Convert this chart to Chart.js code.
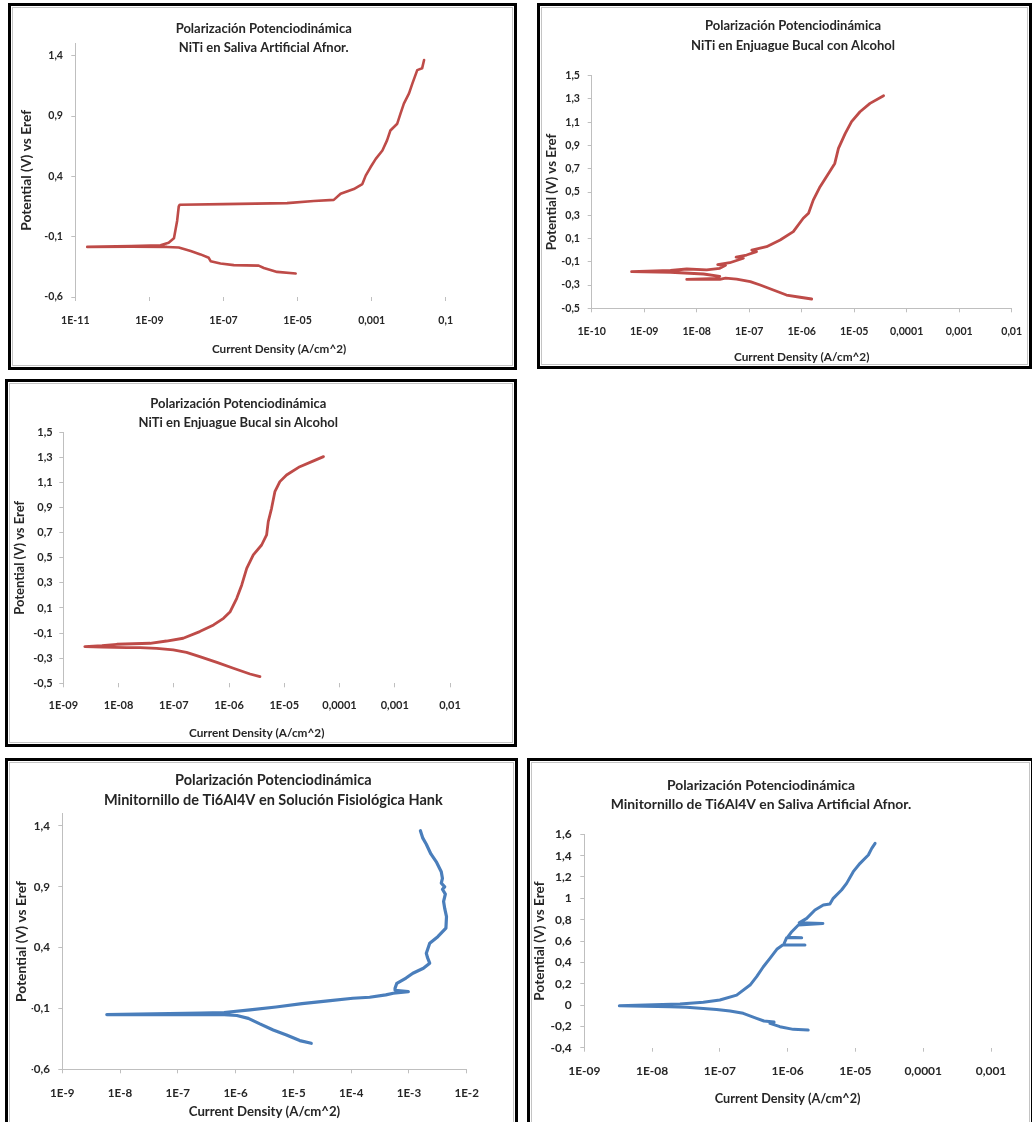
<!DOCTYPE html>
<html><head><meta charset="utf-8">
<script src="https://cdn.jsdelivr.net/npm/chart.js"></script>
<style>
html,body{margin:0;padding:0;width:1032px;height:1122px;overflow:hidden;background:#fff;}
.panel{position:absolute;box-sizing:border-box;border:3px solid #000;background:#fff;box-shadow:inset 0 0 0 1px #fff, inset 0 0 0 2px #c4c4c4;}
canvas{position:absolute;}
</style></head><body>
<div class="panel" style="left:8px;top:3px;width:509px;height:367px"></div>
<div class="panel" style="left:537px;top:3px;width:495px;height:366px"></div>
<div class="panel" style="left:5px;top:379px;width:512px;height:368px"></div>
<div class="panel" style="left:5px;top:758px;width:513px;height:370px"></div>
<div class="panel" style="left:527px;top:758px;width:507px;height:370px"></div>
<canvas id="c1" width="503" height="361" style="left:11px;top:6px"></canvas>
<canvas id="c2" width="520" height="360" style="left:540px;top:6px"></canvas>
<canvas id="c3" width="506" height="362" style="left:8px;top:382px"></canvas>
<canvas id="c4" width="507" height="361" style="left:8px;top:761px"></canvas>
<canvas id="c5" width="499" height="361" style="left:530px;top:761px"></canvas>
<script>
// ---------- DATA (current density A/cm^2, potential V) ----------
const p1Title = ['Polarización Potenciodinámica', 'NiTi en Saliva Artificial Afnor.'];
const p1Current = [8.9e-6, 2.8e-6, 1.23e-6, 8.9e-7, 1.9e-7, 8.3e-8, 4.5e-8, 4.0e-8, 2.4e-8, 1.3e-8, 6.2e-9, 3.0e-9, 3.2e-10, 2.1e-11, 3.2e-10, 2.0e-9, 3.3e-9, 4.6e-9, 5.0e-9, 5.6e-9, 6.2e-9, 6.6e-9, 1.0e-7, 5.2e-6, 2.75e-5, 9.5e-5, 1.45e-4, 3.3e-4, 5.6e-4, 6.9e-4, 9.3e-4, 1.29e-3, 1.95e-3, 2.6e-3, 3.2e-3, 4.9e-3, 6.0e-3, 7.4e-3, 1.02e-2, 1.26e-2, 1.7e-2, 2.3e-2, 2.6e-2];
const p1Potential = [-0.405, -0.392, -0.36, -0.34, -0.336, -0.322, -0.303, -0.275, -0.247, -0.219, -0.19, -0.185, -0.183, -0.185, -0.178, -0.172, -0.15, -0.114, -0.053, 0.03, 0.15, 0.165, 0.17, 0.178, 0.195, 0.205, 0.255, 0.295, 0.336, 0.406, 0.475, 0.545, 0.614, 0.698, 0.78, 0.836, 0.92, 1.003, 1.087, 1.17, 1.28, 1.295, 1.364];
const p1XTicks = [1e-11, 1e-9, 1e-7, 1e-5, 1e-3, 1e-1];
const p1XLabels = ['1E-11', '1E-09', '1E-07', '1E-05', '0,001', '0,1'];
const p1YTicks = [-0.6, -0.1, 0.4, 0.9, 1.4];
const p1YLabels = ['-0,6', '-0,1', '0,4', '0,9', '1,4'];

const p2Title = ['Polarización Potenciodinámica', 'NiTi en Enjuague Bucal con Alcohol'];
const p2Current = [1.55e-6, 9.33e-7, 5.13e-7, 2.88e-7, 1.62e-7, 1.05e-7, 5.75e-8, 3.55e-8, 2.75e-8, 6.46e-9, 2.51e-8, 2.75e-8, 1.35e-8, 3.16e-9, 5.75e-10, 3.16e-9, 6.46e-9, 1.55e-8, 2.75e-8, 3.55e-8, 2.51e-8, 4.27e-8, 7.76e-8, 5.62e-8, 8.91e-8, 1.38e-7, 1.12e-7, 2.14e-7, 3.89e-7, 6.92e-7, 1.07e-6, 1.35e-6, 1.66e-6, 2.24e-6, 3.24e-6, 4.27e-6, 5.01e-6, 6.76e-6, 8.91e-6, 1.29e-5, 2.0e-5, 3.63e-5];
const p2Potential = [-0.42, -0.405, -0.386, -0.343, -0.30, -0.271, -0.25, -0.24, -0.252, -0.252, -0.242, -0.225, -0.205, -0.19, -0.185, -0.175, -0.162, -0.17, -0.156, -0.13, -0.125, -0.108, -0.07, -0.06, -0.042, -0.013, 0, 0.03, 0.087, 0.159, 0.274, 0.317, 0.43, 0.546, 0.66, 0.746, 0.875, 1.004, 1.105, 1.19, 1.262, 1.328];
const p2XTicks = [1e-10, 1e-9, 1e-8, 1e-7, 1e-6, 1e-5, 1e-4, 1e-3, 1e-2];
const p2XLabels = ['1E-10', '1E-09', '1E-08', '1E-07', '1E-06', '1E-05', '0,0001', '0,001', '0,01'];
const p2YTicks = [-0.5, -0.3, -0.1, 0.1, 0.3, 0.5, 0.7, 0.9, 1.1, 1.3, 1.5];
const p2YLabels = ['-0,5', '-0,3', '-0,1', '0,1', '0,3', '0,5', '0,7', '0,9', '1,1', '1,3', '1,5'];

const p3Title = ['Polarización Potenciodinámica', 'NiTi en Enjuague Bucal sin Alcohol'];
const p3Current = [3.63e-6, 2.4e-6, 1.2e-6, 6.03e-7, 2.95e-7, 1.7e-7, 9.77e-8, 4.9e-8, 2.45e-8, 1.41e-8, 5.01e-9, 2.45e-9, 5.01e-9, 9.33e-9, 3.72e-8, 7.41e-8, 1.48e-7, 2.95e-7, 5.25e-7, 7.94e-7, 1.05e-6, 1.38e-6, 1.7e-6, 2.09e-6, 2.75e-6, 3.89e-6, 4.79e-6, 5.13e-6, 5.89e-6, 6.76e-6, 8.32e-6, 1.1e-5, 1.91e-5, 3.39e-5, 5.13e-5];
const p3Potential = [-0.447, -0.426, -0.38, -0.333, -0.288, -0.253, -0.234, -0.221, -0.216, -0.216, -0.212, -0.208, -0.2, -0.189, -0.181, -0.163, -0.141, -0.088, -0.035, 0.018, 0.071, 0.177, 0.284, 0.416, 0.523, 0.602, 0.682, 0.788, 0.894, 1.027, 1.107, 1.16, 1.226, 1.272, 1.306];
const p3XTicks = [1e-9, 1e-8, 1e-7, 1e-6, 1e-5, 1e-4, 1e-3, 1e-2];
const p3XLabels = ['1E-09', '1E-08', '1E-07', '1E-06', '1E-05', '0,0001', '0,001', '0,01'];
const p3YTicks = [-0.5, -0.3, -0.1, 0.1, 0.3, 0.5, 0.7, 0.9, 1.1, 1.3, 1.5];
const p3YLabels = ['-0,5', '-0,3', '-0,1', '0,1', '0,3', '0,5', '0,7', '0,9', '1,1', '1,3', '1,5'];

const p4Title = ['Polarización Potenciodinámica', 'Minitornillo de Ti6Al4V en Solución Fisiológica Hank'];
const p4Current = [2.04e-5, 1.29e-5, 7.59e-6, 4.47e-6, 2.63e-6, 1.66e-6, 1.05e-6, 5.37e-7, 2.4e-7, 5.89e-9, 2.51e-7, 6.31e-7, 1.78e-6, 5.01e-6, 1.41e-5, 3.98e-5, 1.07e-4, 2.09e-4, 3.98e-4, 5.37e-4, 9.77e-4, 5.75e-4, 5.75e-4, 6.17e-4, 8.91e-4, 1.17e-3, 1.78e-3, 2.29e-3, 2.09e-3, 2.0e-3, 2.29e-3, 3.16e-3, 4.37e-3, 4.47e-3, 4.17e-3, 3.98e-3, 4.27e-3, 3.8e-3, 4.17e-3, 3.63e-3, 3.8e-3, 3.63e-3, 3.02e-3, 2.4e-3, 2.0e-3, 1.74e-3, 1.58e-3];
const p4Potential = [-0.386, -0.364, -0.318, -0.277, -0.227, -0.181, -0.158, -0.148, -0.15, -0.15, -0.138, -0.133, -0.112, -0.088, -0.06, -0.038, -0.016, -0.008, 0.012, 0.025, 0.038, 0.05, 0.066, 0.107, 0.15, 0.19, 0.23, 0.272, 0.32, 0.354, 0.436, 0.49, 0.56, 0.655, 0.72, 0.78, 0.84, 0.88, 0.9, 0.93, 0.97, 1.024, 1.10, 1.17, 1.25, 1.30, 1.361];
const p4XTicks = [1e-9, 1e-8, 1e-7, 1e-6, 1e-5, 1e-4, 1e-3, 1e-2];
const p4XLabels = ['1E-9', '1E-8', '1E-7', '1E-6', '1E-5', '1E-4', '1E-3', '1E-2'];
const p4YTicks = [-0.6, -0.1, 0.4, 0.9, 1.4];
const p4YLabels = ['-0,6', '-0,1', '0,4', '0,9', '1,4'];

const p5Title = ['Polarización Potenciodinámica', 'Minitornillo de Ti6Al4V en Saliva Artificial Afnor.'];
const p5Current = [2.01e-6, 1.21e-6, 7.69e-7, 5.48e-7, 6.31e-7, 4.47e-7, 3.48e-7, 2.21e-7, 1.41e-7, 8.95e-8, 5.7e-8, 3.24e-8, 1.84e-8, 3.29e-9, 2.58e-8, 5.7e-8, 1.0e-7, 1.77e-7, 2.79e-7, 3.49e-7, 4.38e-7, 5.48e-7, 6.92e-7, 8.45e-7, 1.8e-6, 8.71e-7, 9.68e-7, 1.61e-6, 1.0e-6, 1.15e-6, 1.44e-6, 3.31e-6, 1.48e-6, 1.91e-6, 2.53e-6, 3.36e-6, 4.2e-6, 4.7e-6, 6.24e-6, 7.41e-6, 9.29e-6, 1.17e-5, 1.55e-5, 1.74e-5, 1.95e-5];
const p5Potential = [-0.235, -0.228, -0.203, -0.172, -0.16, -0.15, -0.125, -0.078, -0.056, -0.041, -0.032, -0.022, -0.016, -0.007, 0.009, 0.025, 0.047, 0.093, 0.187, 0.266, 0.359, 0.437, 0.522, 0.562, 0.562, 0.565, 0.631, 0.631, 0.635, 0.687, 0.75, 0.765, 0.77, 0.812, 0.89, 0.937, 0.947, 1.0, 1.078, 1.14, 1.25, 1.328, 1.406, 1.468, 1.515];
const p5XTicks = [1e-9, 1e-8, 1e-7, 1e-6, 1e-5, 1e-4, 1e-3];
const p5XLabels = ['1E-09', '1E-08', '1E-07', '1E-06', '1E-05', '0,0001', '0,001'];
const p5YTicks = [-0.4, -0.2, 0, 0.2, 0.4, 0.6, 0.8, 1, 1.2, 1.4, 1.6];
const p5YLabels = ['-0,4', '-0,2', '0', '0,2', '0,4', '0,6', '0,8', '1', '1,2', '1,4', '1,6'];

const xAxisTitle = 'Current Density (A/cm^2)';
const yAxisTitle = 'Potential (V) vs Eref';

// ---------- STYLE / LAYOUT ----------
const FONT = 'Lato, "Open Sans", sans-serif';
const AXIS_COLOR = '#BFBFBF';
const TEXT_COLOR = '#262626';
const RED = '#BE4B48';
const BLUE = '#4A7EBB';

function makeChart(id, g, f, s) {
  const r = g.R - g.cl;
  const sp = 2 * g.Tc - g.cl - g.R;
  const y2W = Math.max(0, Math.min(sp, g.w - r));
  const pl = sp - y2W;
  const pr = g.w - r - y2W;
  const yW = g.L - g.cl - pl;
  const tl = 4;
  const tPadTop = (g.ty1 - g.ct) - g.lhT / 2;
  const tPadBottom = (g.T - g.ct) - tPadTop - s.title.length * g.lhT;
  const xH = g.h - (g.B - g.ct);
  const xtPadBottom = g.h - (g.Xy - g.ct) - f.lhA / 2;
  const xTickPad = (g.xlab - g.B) - tl - f.lhK / 2;
  const yTickPad = (g.L - g.ylabR) - tl;
  const ytPadTop = (g.Yx - g.cl) - pl - f.lhA / 2;
  const tickFont = {family: FONT, size: f.tick, weight: 'bold', lineHeight: f.lhK + 'px'};
  const grid = {display: true, drawOnChartArea: false, drawTicks: true, tickLength: tl, color: AXIS_COLOR, lineWidth: 1};
  const pts = s.x.map((v, i) => ({x: v, y: s.y[i]}));
  return new Chart(document.getElementById(id), {
    type: 'scatter',
    data: {datasets: [{data: pts, showLine: true, borderColor: s.color, backgroundColor: s.color,
      borderWidth: s.lw, pointRadius: 0, pointHoverRadius: 0, tension: 0,
      borderJoinStyle: 'round', borderCapStyle: 'round'}]},
    options: {
      responsive: false, animation: false, devicePixelRatio: 1,
      layout: {padding: {left: pl, right: pr, top: 0, bottom: 0}},
      plugins: {
        legend: {display: false}, tooltip: {enabled: false},
        title: {display: true, text: s.title, color: TEXT_COLOR, align: 'center', fullSize: true,
          font: {family: FONT, size: f.title, weight: 'bold', lineHeight: g.lhT + 'px'},
          padding: {top: tPadTop, bottom: tPadBottom}}
      },
      scales: {
        x: {type: 'logarithmic', position: 'bottom', min: s.xMin, max: s.xMax, bounds: 'data',
          afterBuildTicks: sc => { sc.ticks = s.xTicks.map(v => ({value: v})); },
          afterFit: sc => { sc.height = xH; },
          ticks: {autoSkip: false, maxRotation: 0, minRotation: 0, padding: xTickPad, color: TEXT_COLOR,
            font: tickFont, callback: (v, i) => s.xLabels[i]},
          grid: grid,
          border: {display: s.xBorder, color: AXIS_COLOR, width: 1},
          title: {display: true, text: xAxisTitle, color: TEXT_COLOR,
            font: {family: FONT, size: f.xt, weight: 'bold', lineHeight: f.lhA + 'px'},
            padding: {top: 0, bottom: xtPadBottom}}
        },
        y: {type: 'linear', position: 'left', min: s.yMin, max: s.yMax, bounds: 'data',
          afterBuildTicks: sc => { sc.ticks = s.yTicks.map(v => ({value: v})); },
          afterFit: sc => { sc.width = yW; },
          ticks: {autoSkip: false, padding: yTickPad, color: TEXT_COLOR, font: tickFont,
            callback: (v, i) => s.yLabels[i]},
          grid: grid,
          border: {display: true, color: AXIS_COLOR, width: 1},
          title: {display: true, text: yAxisTitle, color: TEXT_COLOR,
            font: {family: FONT, size: f.yt, weight: 'bold', lineHeight: f.lhA + 'px'},
            padding: {top: ytPadTop, bottom: 0}}
        },
        yR: {type: 'linear', position: 'right', display: true,
          grid: {display: false}, border: {display: false}, ticks: {display: false},
          afterFit: sc => { sc.width = y2W; }}
      }
    }
  });
}

makeChart('c1',
  {cl: 11, ct: 6, w: 503, h: 361, L: 75.3, R: 482.8, T: 43.6, B: 297, Tc: 263.7, ty1: 29, lhT: 19, Yx: 27, Xy: 349, xlab: 320.7, ylabR: 63},
  {title: 13, xt: 11.7, yt: 13.8, tick: 10.6, lhA: 14, lhK: 12},
  {title: p1Title, x: p1Current, y: p1Potential, color: RED, lw: 2.6, xMin: 1e-11, xMax: 1, yMin: -0.6, yMax: 1.5,
   xTicks: p1XTicks, xLabels: p1XLabels, yTicks: p1YTicks, yLabels: p1YLabels, xBorder: false});

makeChart('c2',
  {cl: 540, ct: 6, w: 520, h: 360, L: 591.7, R: 1011.7, T: 75.7, B: 308.3, Tc: 793, ty1: 26, lhT: 19.7, Yx: 551.7, Xy: 357.3, xlab: 331.7, ylabR: 580},
  {title: 13, xt: 11.8, yt: 13.3, tick: 10.6, lhA: 14, lhK: 12},
  {title: p2Title, x: p2Current, y: p2Potential, color: RED, lw: 2.8, xMin: 1e-10, xMax: 1e-2, yMin: -0.5, yMax: 1.5,
   xTicks: p2XTicks, xLabels: p2XLabels, yTicks: p2YTicks, yLabels: p2YLabels, xBorder: true});

makeChart('c3',
  {cl: 8, ct: 382, w: 506, h: 362, L: 63.3, R: 450, T: 432.3, B: 683.3, Tc: 238.3, ty1: 404.3, lhT: 19, Yx: 20, Xy: 732.7, xlab: 705, ylabR: 52.7},
  {title: 13, xt: 11.8, yt: 13, tick: 11, lhA: 14, lhK: 12},
  {title: p3Title, x: p3Current, y: p3Potential, color: RED, lw: 2.8, xMin: 1e-9, xMax: 1e-2, yMin: -0.5, yMax: 1.5,
   xTicks: p3XTicks, xLabels: p3XLabels, yTicks: p3YTicks, yLabels: p3YLabels, xBorder: false});

makeChart('c4',
  {cl: 8, ct: 761, w: 507, h: 361, L: 62.3, R: 466.7, T: 813.8, B: 1069.3, Tc: 273.3, ty1: 780, lhT: 20, Yx: 21.7, Xy: 1111.7, xlab: 1093.3, ylabR: 50},
  {title: 14.5, xt: 13.2, yt: 13.8, tick: 11.6, lhA: 15, lhK: 13},
  {title: p4Title, x: p4Current, y: p4Potential, color: BLUE, lw: 3.2, xMin: 1e-9, xMax: 1e-2, yMin: -0.6, yMax: 1.5,
   xTicks: p4XTicks, xLabels: p4XLabels, yTicks: p4YTicks, yLabels: p4YLabels, xBorder: true});

makeChart('c5',
  {cl: 530, ct: 761, w: 499, h: 361, L: 584.3, R: 991, T: 834.3, B: 1047.7, Tc: 761, ty1: 786, lhT: 19, Yx: 540, Xy: 1099.3, xlab: 1070.7, ylabR: 571.7},
  {title: 13.9, xt: 12.7, yt: 13.6, tick: 12, lhA: 15, lhK: 13},
  {title: p5Title, x: p5Current, y: p5Potential, color: BLUE, lw: 3, xMin: 1e-9, xMax: 1e-3, yMin: -0.4, yMax: 1.6,
   xTicks: p5XTicks, xLabels: p5XLabels, yTicks: p5YTicks, yLabels: p5YLabels, xBorder: false});
</script>
</body></html>
